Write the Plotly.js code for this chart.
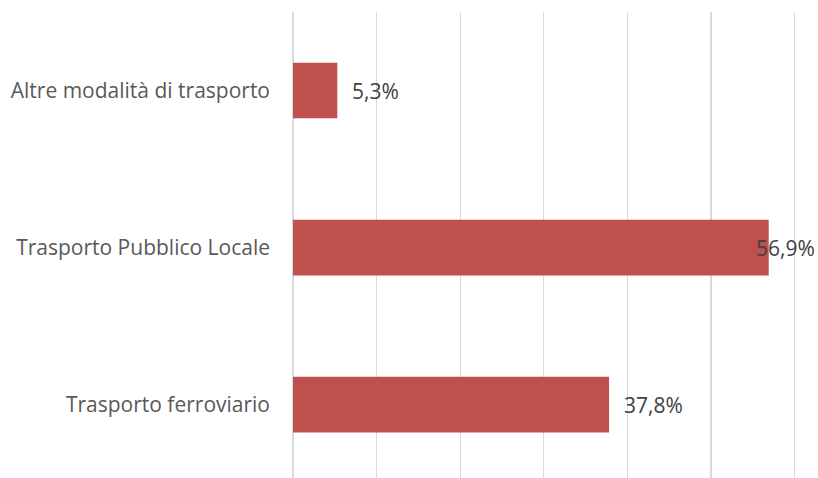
<!DOCTYPE html>
<html>
<head>
<meta charset="utf-8">
<script src="https://cdn.plot.ly/plotly-3.0.1.min.js"></script>
<style>html,body{margin:0;padding:0;background:#fff;}#chart{width:818px;height:478px;}</style>
</head>
<body>
<div id="chart"></div>
<script>
const categories = ["Trasporto ferroviario", "Trasporto Pubblico Locale", "Altre modalità di trasporto"];
const values = [37.8, 56.9, 5.3];
const valueLabels = ["37,8%", "56,9%", "5,3%"];

const FONT = "'Open Sans', sans-serif";
const xMax = 61;

const annotations = values.map((v, i) => {
  const fits = v < 54;
  return fits ? {
    x: v, y: i, xref: 'x', yref: 'y', text: valueLabels[i], showarrow: false,
    xanchor: 'left', xshift: 13, font: {family: FONT, size: 21, color: '#404040'}
  } : {
    x: 1, y: i, xref: 'paper', yref: 'y', text: valueLabels[i], showarrow: false,
    xanchor: 'right', xshift: 14, font: {family: FONT, size: 21, color: '#404040'}
  };
});

const trace = {
  type: 'bar', orientation: 'h',
  x: values, y: [0, 1, 2],
  marker: {color: '#C0504D'},
  width: 0.355,
  hoverinfo: 'none'
};

const layout = {
  width: 818, height: 478,
  margin: {l: 293, r: 15, t: 12, b: 0},
  paper_bgcolor: '#ffffff', plot_bgcolor: '#ffffff',
  showlegend: false,
  xaxis: {
    range: [0, xMax], dtick: 10, tick0: 0,
    showgrid: true, gridcolor: '#d9d9d9', gridwidth: 1.3,
    zeroline: true, zerolinecolor: '#d9d9d9', zerolinewidth: 1.3,
    showticklabels: false, showline: false, ticks: ''
  },
  yaxis: {
    range: [-0.468, 2.5],
    tickmode: 'array', tickvals: [0, 1, 2], ticktext: categories,
    showgrid: false, zeroline: false, showline: false,
    ticks: '', ticklabelstandoff: 22,
    tickfont: {family: FONT, size: 21, color: '#595959'}
  },
  annotations: annotations
};

Plotly.newPlot('chart', [trace], layout, {staticPlot: true, displayModeBar: false});
</script>
</body>
</html>
